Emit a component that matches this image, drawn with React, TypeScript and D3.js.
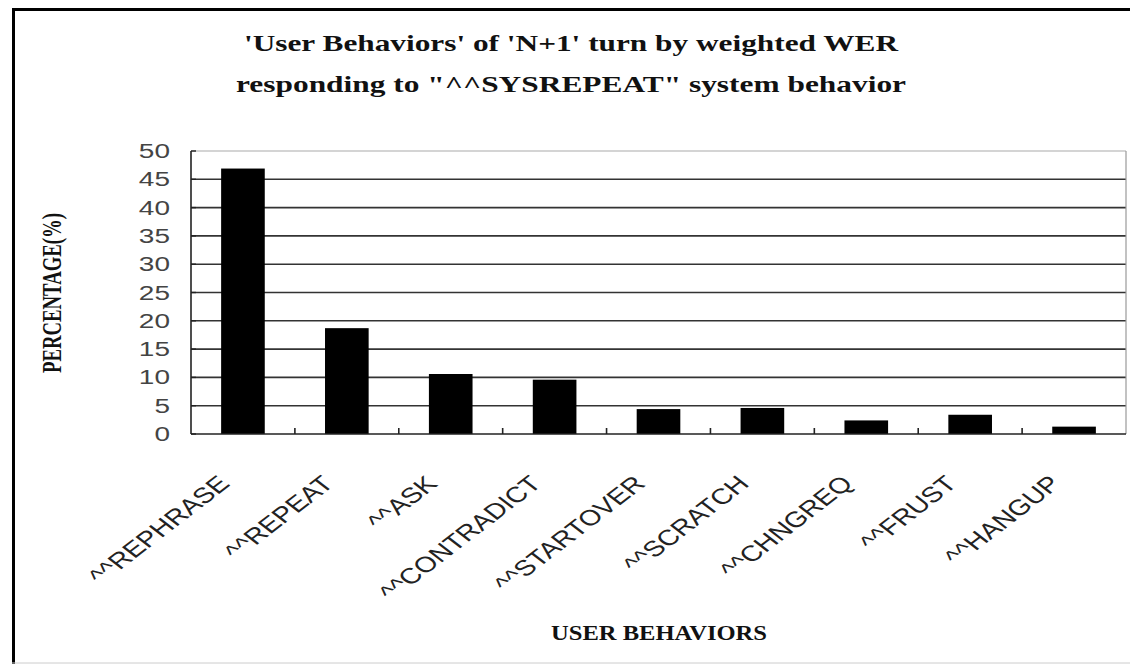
import React from 'react';
import * as d3 from 'd3';

const categories = ['^^REPHRASE', '^^REPEAT', '^^ASK', '^^CONTRADICT', '^^STARTOVER', '^^SCRATCH', '^^CHNGREQ', '^^FRUST', '^^HANGUP'];
const percentages = [46.9, 18.7, 10.6, 9.6, 4.4, 4.6, 2.4, 3.4, 1.3];
const yTicks = [0, 5, 10, 15, 20, 25, 30, 35, 40, 45, 50];
const titleLines = ["'User Behaviors' of 'N+1' turn by weighted WER", 'responding to "^^SYSREPEAT" system behavior'];
const xTitle = 'USER BEHAVIORS';
const yTitle = 'PERCENTAGE(%)';

const W = 1130;
const H = 664;
const plot = { left: 191, right: 1126, top: 151, bottom: 434 };
const stretch = 1.4; // the source picture is widened sideways

export default function App() {
  const x = d3.scaleBand<string>()
    .domain(categories)
    .range([plot.left, plot.right])
    .paddingInner(0.58)
    .paddingOuter(0.29);
  const y = d3.scaleLinear().domain([0, 50]).range([plot.bottom, plot.top]);

  const step = x.step();
  const bw = x.bandwidth();
  const sepTicks = categories.slice(1).map(c => (x(c) as number) - (step - bw) / 2);

  return (
    <svg width={W} height={H} style={{ position: 'absolute', left: 0, top: 0, background: '#fff' }}>
      {/* frame */}
      <rect x={0} y={0} width={W} height={H} fill="#fff" />
      <line x1={13.5} x2={13.5} y1={8} y2={H} stroke="#000" strokeWidth={3} />
      <line x1={12} x2={W} y1={9.5} y2={9.5} stroke="#000" strokeWidth={3} />
      <line x1={12} x2={W} y1={663} y2={663} stroke="#ccc" strokeWidth={1} />

      {/* title */}
      {titleLines.map((t, i) => (
        <text key={i} x={571} y={51 + i * 41} textAnchor="middle"
          fontFamily="Liberation Serif" fontWeight="bold" fontSize={23} fill="#111"
          textLength={i === 0 ? 654 : 670} lengthAdjust="spacingAndGlyphs">{t}</text>
      ))}

      {/* gridlines */}
      {yTicks.filter(t => t > 0).map(t => (
        <line key={t} x1={plot.left} x2={plot.right} y1={y(t)} y2={y(t)}
          stroke={t === 50 ? '#aaa' : '#333'} strokeWidth={t === 50 ? 1.2 : 1.6} />
      ))}
      <line x1={plot.right} x2={plot.right} y1={plot.top} y2={plot.bottom} stroke="#999" strokeWidth={1.2} />

      {/* bars */}
      {categories.map((c, i) => (
        <rect key={c} x={x(c)} y={y(percentages[i])} width={bw}
          height={plot.bottom - y(percentages[i])} fill="#000" />
      ))}

      {/* axes */}
      <line x1={plot.left} x2={plot.left} y1={plot.top} y2={plot.bottom} stroke="#222" strokeWidth={1.6} />
      <line x1={plot.left} x2={plot.right} y1={plot.bottom} y2={plot.bottom} stroke="#222" strokeWidth={1.6} />
      {sepTicks.map((tx, i) => (
        <line key={i} x1={tx} x2={tx} y1={plot.bottom} y2={plot.bottom - 6} stroke="#222" strokeWidth={1.6} />
      ))}
      {yTicks.map(t => (
        <line key={t} x1={plot.left} x2={plot.left + 5} y1={y(t)} y2={y(t)} stroke="#222" strokeWidth={1.4} />
      ))}

      {/* y tick labels */}
      {yTicks.map(t => (
        <text key={t} transform={`translate(170,${y(t) + 7}) scale(${stretch},1)`} textAnchor="end"
          fontFamily="Liberation Sans" fontSize={20} fill="#444">{t}</text>
      ))}

      {/* x tick labels */}
      {categories.map(c => (
        <text key={c}
          transform={`translate(${(x(c) as number) + bw / 2 - 12},485) scale(1.3,1) rotate(-45)`}
          textAnchor="end" fontFamily="Liberation Sans" fontSize={22} fill="#222">{c}</text>
      ))}

      {/* axis titles */}
      <text x={659} y={640} textAnchor="middle" fontFamily="Liberation Serif" fontWeight="bold"
        fontSize={20} fill="#111" textLength={216} lengthAdjust="spacingAndGlyphs">{xTitle}</text>
      <text transform={`translate(61,293) scale(${stretch},1) rotate(-90)`} textAnchor="middle"
        fontFamily="Liberation Serif" fontWeight="bold" fontSize={20} fill="#111"
        textLength={160} lengthAdjust="spacingAndGlyphs">{yTitle}</text>
    </svg>
  );
}
